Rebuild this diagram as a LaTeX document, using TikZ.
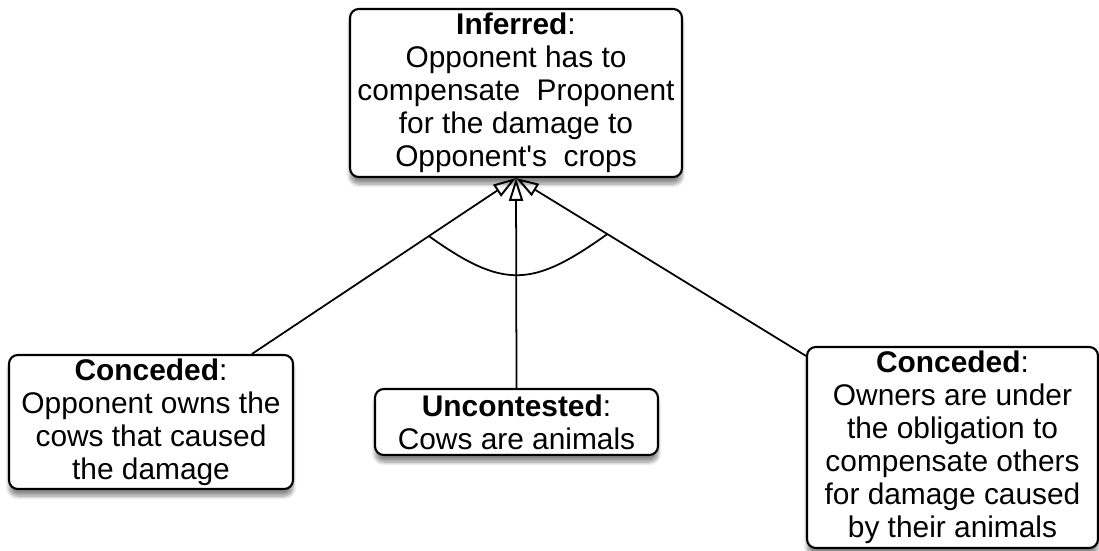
\documentclass[tikz,border=0pt]{standalone}
\usepackage{fontspec}
\setmainfont{Liberation Sans}
\usetikzlibrary{arrows.meta,shadows.blur}

\begin{document}
\begin{tikzpicture}[
  claim node/.style={rectangle,rounded corners=5pt,draw,line width=1.2pt,fill=white,
    align=center,inner sep=0pt,font=\fontsize{17}{18.8}\selectfont,
    blur shadow={shadow xshift=0pt,shadow yshift=-4pt,shadow blur steps=8,shadow opacity=45}},
  support/.style={line width=1pt,-{Triangle[open,length=13pt,width=8pt,line width=1.1pt]}}]

  \useasboundingbox (0,0) rectangle (21.98,11);

  \node[claim node,minimum width=6.64cm,minimum height=3.36cm] (inferred) at (10.32,9.14)
    {\textbf{Inferred}:\\Opponent has to\\compensate\ \ Proponent\\for the damage to\\Opponent\textquotesingle s\ \ crops};
  \node[claim node,minimum width=5.68cm,minimum height=2.68cm] (conc1) at (3.02,2.56)
    {\textbf{Conceded}:\\Opponent owns the\\cows that caused\\the damage};
  \node[claim node,minimum width=5.66cm,minimum height=1.32cm] (uncont) at (10.33,2.56)
    {\textbf{Uncontested}:\\Cows are animals};
  \node[claim node,minimum width=5.82cm,minimum height=4.02cm] (conc2) at (19.05,2.05)
    {\textbf{Conceded}:\\Owners are under\\the obligation to\\compensate others\\for damage caused\\by their animals};

  \draw[support] (conc1.34) -- coordinate[pos=0.67] (l) (inferred.south);
  \draw[support] (uncont.north) -- (inferred.south);
  \draw[support] (conc2.148) -- coordinate[pos=0.685] (r) (inferred.south);

  % linked premises
  \draw[line width=1pt] (l) .. controls +(1.5,-1.07) and +(-1.5,-1.07) .. (r);
\end{tikzpicture}
\end{document}
